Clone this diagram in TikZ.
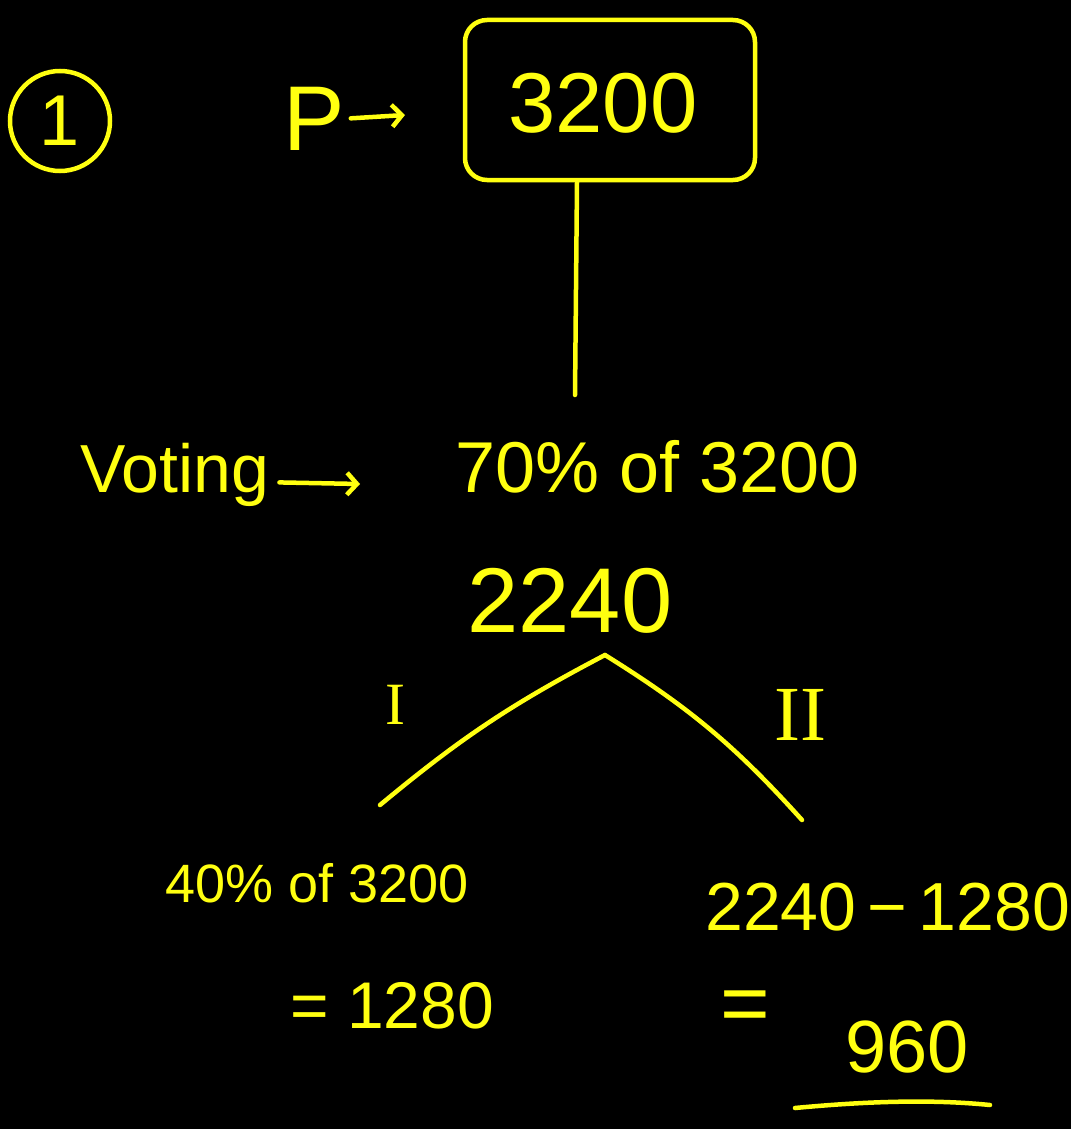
\documentclass[tikz,border=0pt]{standalone}
\usepackage{fontspec}
\setmainfont{Liberation Sans}
\newfontfamily\romanfont{Liberation Serif}
\usetikzlibrary{arrows.meta}
\definecolor{hy}{HTML}{FFFF10}
\newcommand\fsz[1]{\fontsize{#1}{#1}\selectfont}
\begin{document}
\begin{tikzpicture}[x=1pt,y=-1pt,
  ink/.style={draw=hy, line width=4.5pt, line cap=round, line join=round},
  arrowline/.style={ink, -{Straight Barb[length=10pt,width=22pt,line width=4.5pt]}},
  txt/.style={text=hy, inner sep=0pt}]
\fill[black] (0,0) rectangle (1071,1129);
\useasboundingbox (0,0) rectangle (1071,1129);

% circled number
\node[txt, draw=hy, line width=4.5pt, circle, minimum size=100pt, font=\fsz{72}] (num) at (60,121) {1};

% P ->
\node[txt, anchor=base west, font=\fsz{92}] (P) at (283,150) {P};
\coordinate (Ptip) at (405,115);
\draw[arrowline] ([xshift=6pt]P.east) -- (Ptip);

% boxed 3200
\node[draw=hy, line width=4.5pt, rounded corners=22pt, minimum width=290pt, minimum height=160pt] (box) at (610,100) {};
\node[txt, anchor=base, font=\fsz{85}] (n3200) at (603,132) {3200};
\coordinate (vbot) at (575,395);
\draw[ink] ([xshift=-33pt]box.south) -- (vbot);

% Voting ->
\node[txt, anchor=base west, font=\fsz{68}] (vot) at (80,492) {Voting};
\coordinate (vtip) at (360,484);
\draw[arrowline] ([xshift=10pt,yshift=-8pt]vot.east) -- (vtip);

% 70% of 3200
\node[txt, anchor=base west, font=\fsz{72}] (n70) at (455,492) {70\% of 3200};

% 2240
\node[txt, anchor=base, font=\fsz{92}] (n2240) at (570,632) {2240};
\coordinate (split) at (605,655);
\coordinate (lend) at (380,805);
\coordinate (rend) at (802,820);
\draw[ink] (split) to[bend right=6] (lend);
\draw[ink] (split) to[bend left=8] (rend);

% branch labels
\node[txt, font=\romanfont\fsz{60}] (b1) at (395,705) {I};
\node[txt, font=\romanfont\fsz{78}] (b2) at (800,715) {II};

% left branch
\node[txt, anchor=base west, font=\fsz{54}] (n40) at (165,902) {40\% of 3200};
\node[txt, anchor=base west, font=\fsz{66}] (r1) at (290,1028) {= 1280};

% right branch
\node[txt, anchor=base west, font=\fsz{68}] (diff) at (705,930) {2240\,−\,1280};
\node[txt, font=\fsz{85}] (eq2) at (745,1012) {=};
\node[txt, anchor=base west, font=\fsz{74}] (n960) at (845,1072) {960};
\coordinate (ula) at (795,1108);
\coordinate (ulb) at (990,1105);
\draw[ink] (ula) .. controls (880,1100) and (940,1100) .. (ulb);
\end{tikzpicture}
\end{document}
